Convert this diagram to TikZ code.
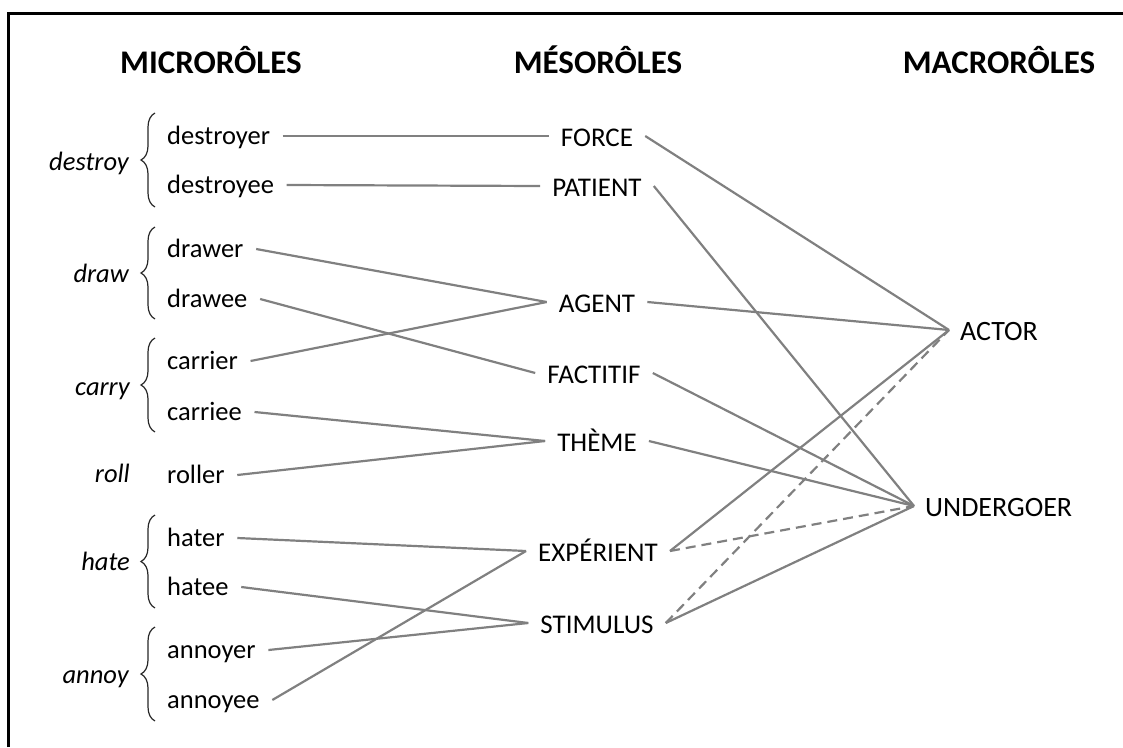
\documentclass[tikz,border=0pt]{standalone}
\usepackage{fontspec}
\setmainfont{Carlito}
\usetikzlibrary{decorations.pathreplacing}
\begin{document}
\begin{tikzpicture}[x=1pt,y=-1pt,
  every node/.style={inner ysep=0pt},
  heading/.style={font=\fontsize{33}{37}\selectfont\bfseries, anchor=base, inner sep=0pt},
  verb/.style={font=\fontsize{26.5}{30}\selectfont\itshape, anchor=base east, inner sep=0pt},
  item/.style={font=\fontsize{26.5}{30}\selectfont, anchor=west, inner xsep=12.5pt, text height=20pt, text depth=3pt},
  meso/.style={font=\fontsize{27}{30}\selectfont, anchor=center, inner xsep=12pt, text height=24pt, text depth=3.2pt},
  macro/.style={font=\fontsize{28}{32}\selectfont, anchor=west, inner xsep=11pt, text height=24pt, text depth=3.2pt},
  link/.style={draw=black!50, line width=2.2pt},
  dlink/.style={link, dash pattern=on 10pt off 6pt},
  bracestyle/.style={draw=black!85, line width=1.2pt, decorate, decoration={brace, amplitude=14pt}},
  frameline/.style={draw=black, line width=3pt}
]
\useasboundingbox (0,0) rectangle (1123,747);
\draw[frameline] (8,747) -- (8,13) -- (1123,13);

% headings
\node[heading] (hmicro) at (211,73) {MICRORÔLES};
\node[heading] (hmeso) at (598,73) {MÉSORÔLES};
\node[heading] (hmacro) at (999,73) {MACRORÔLES};

% verbs
\node[verb] (vdestroy) at (129,170) {destroy};
\node[verb] (vdraw) at (129,282) {draw};
\node[verb] (vcarry) at (130,395) {carry};
\node[verb] (vroll) at (130,482) {roll};
\node[verb] (vhate) at (130,570) {hate};
\node[verb] (vannoy) at (129,683) {annoy};

% braces
\draw[bracestyle] (155,207) -- (155,113);
\draw[bracestyle] (155,319) -- (155,227);
\draw[bracestyle] (155,432) -- (155,338);
\draw[bracestyle] (155,608) -- (155,515);
\draw[bracestyle] (155,721) -- (155,627);

% microroles
\node[item] (destroyer) at (154.5,136) {destroyer};
\node[item] (destroyee) at (154.5,185) {destroyee};
\node[item] (drawer) at (154.5,249) {drawer};
\node[item] (drawee) at (154.5,299) {drawee};
\node[item] (carrier) at (154.5,361) {carrier};
\node[item] (carriee) at (154.5,412) {carriee};
\node[item] (roller) at (154.5,475) {roller};
\node[item] (hater) at (154.5,538) {hater};
\node[item] (hatee) at (154.5,587) {hatee};
\node[item] (annoyer) at (154.5,650) {annoyer};
\node[item] (annoyee) at (154.5,700) {annoyee};

% mesoroles
\node[meso] (force) at (597,136) {FORCE};
\node[meso] (patient) at (597,186) {PATIENT};
\node[meso] (agent) at (597,302) {AGENT};
\node[meso] (factitif) at (594,373) {FACTITIF};
\node[meso] (theme) at (597,441) {THÈME};
\node[meso] (experient) at (598,551) {EXPÉRIENT};
\node[meso] (stimulus) at (597,623) {STIMULUS};

% macroroles
\node[macro] (actor) at (949,330) {ACTOR};
\node[macro] (undergoer) at (914,506) {UNDERGOER};

% micro -> meso
\draw[link] (destroyer.east) -- (force.west);
\draw[link] (destroyee.east) -- (patient.west);
\draw[link] (drawer.east) -- (agent.west);
\draw[link] (drawee.east) -- (factitif.west);
\draw[link] (carrier.east) -- (agent.west);
\draw[link] (carriee.east) -- (theme.west);
\draw[link] (roller.east) -- (theme.west);
\draw[link] (hater.east) -- (experient.west);
\draw[link] (hatee.east) -- (stimulus.west);
\draw[link] (annoyer.east) -- (stimulus.west);
\draw[link] (annoyee.east) -- (experient.west);

% meso -> macro
\draw[link] (force.east) -- (actor.west);
\draw[link] (patient.east) -- (undergoer.west);
\draw[link] (agent.east) -- (actor.west);
\draw[link] (factitif.east) -- (undergoer.west);
\draw[link] (theme.east) -- (undergoer.west);
\draw[link] (experient.east) -- (actor.west);
\draw[dlink] (experient.east) -- (undergoer.west);
\draw[link] (stimulus.east) -- (undergoer.west);
\draw[dlink] (stimulus.east) -- (actor.west);
\end{tikzpicture}
\end{document}
